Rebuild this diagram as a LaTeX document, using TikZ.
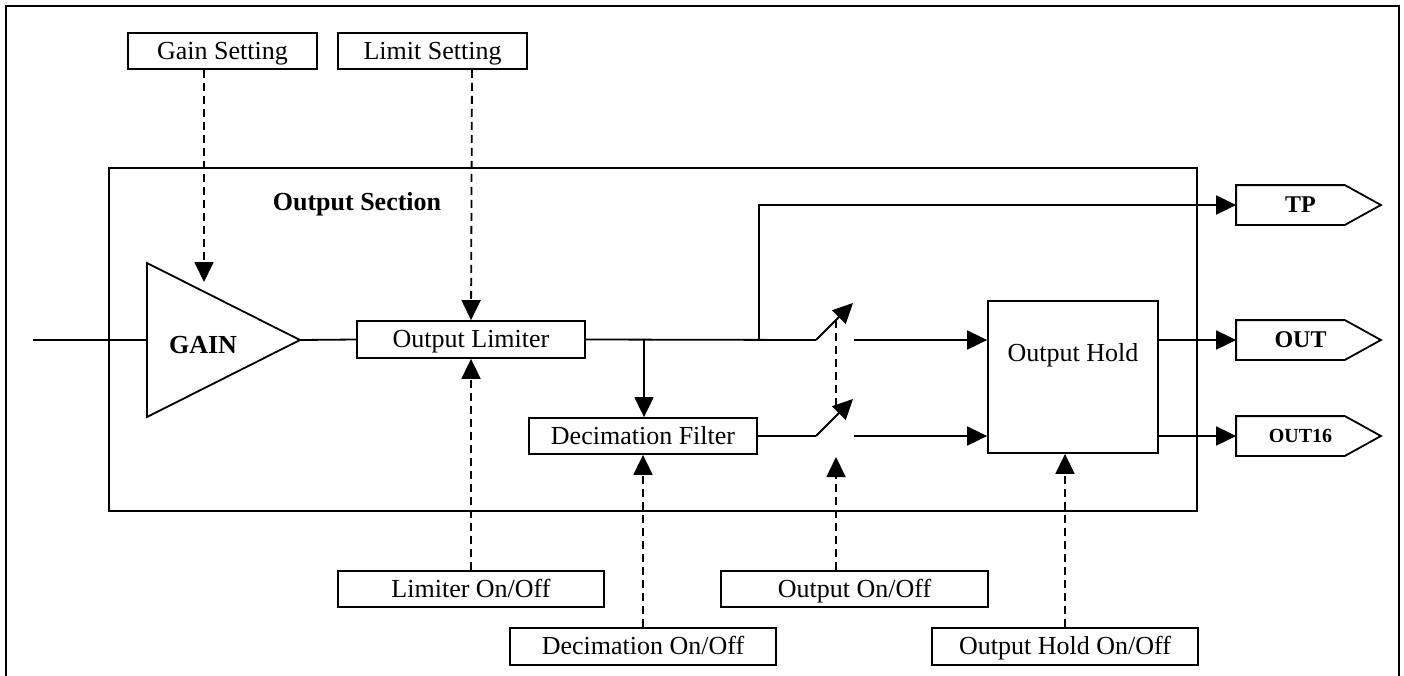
\documentclass[tikz,border=0pt]{standalone}
\usepackage{fontspec}
\setmainfont{Liberation Serif}
\usetikzlibrary{arrows.meta}
\begin{document}
\begin{tikzpicture}[x=1pt,y=-1pt,line width=1.8pt,
  font=\fontsize{26}{31}\selectfont,
  box/.style={draw,line width=1.8pt,minimum height=36pt,inner sep=0pt,text height=20pt,text depth=4pt},
  tagbox/.style={draw=none,minimum width=107pt,minimum height=38pt,inner sep=0pt,font=\fontsize{24}{28}\selectfont\bfseries},
  arr/.style={-{Triangle[length=20pt,width=19pt]}},
  dsh/.style={dash pattern=on 8pt off 5pt}]
\useasboundingbox (0,0) rectangle (1404,675);
% outer frame (open at the bottom)
\draw[line width=2.4pt] (6,680) -- (6,6) -- (1399,6) -- (1399,680);
% output section
\node[draw,minimum width=1088pt,minimum height=343pt,inner sep=0pt] (sec) at (653,339.5) {};
\node[font=\fontsize{26}{31}\selectfont\bfseries] (sect) at (357,204) {Output Section};
% settings
\node[box,minimum width=189pt] (gs) at (222.5,51) {Gain Setting};
\node[box,minimum width=189pt] (ls) at (432.5,51) {Limit Setting};
% amplifier
\coordinate (src) at (33,340);
\coordinate (ampin) at (147,340);
\coordinate (ampout) at (300,340);
\coordinate (gaintip) at (204,282);
\draw (147,263) -- (ampout) -- (147,417) -- cycle;
\node[font=\fontsize{26}{31}\selectfont\bfseries] (gain) at (203,345) {GAIN};
\draw (src) -- (ampin);
% limiter
\node[box,minimum width=228pt,minimum height=37pt] (lim) at (471,339.5) {Output Limiter};
\draw (ampout) -- (lim.west);
\draw[arr,dsh] ([xshift=-18.5pt]gs.south) -- (gaintip);
\draw[arr,dsh] ([xshift=39.5pt]ls.south) -- (lim.north);
\node[box,minimum width=266pt] (lo) at (471,589) {Limiter On/Off};
\draw[arr,dsh] (lo.north) -- (lim.south);
% decimation
\node[box,minimum width=228pt] (dec) at (643,436) {Decimation Filter};
\coordinate (j1) at (644,340);
\draw[arr] (j1) -- (j1 |- dec.north);
\node[box,minimum width=266pt,minimum height=37pt] (do) at (643,646.5) {Decimation On/Off};
\draw[arr,dsh] (do.north) -- (dec.south);
% output hold
\node[draw,minimum width=170pt,minimum height=152pt,inner sep=0pt] (hold) at (1073,377) {\raisebox{50pt}{Output Hold}};
% tags
\node[tagbox] (tp) at (1290.5,205) {\hspace*{20pt}TP};
\node[tagbox] (out) at (1290.5,340) {\hspace*{20pt}OUT};
\node[tagbox,font=\fontsize{20}{24}\selectfont\bfseries] (out16) at (1290.5,436) {\hspace*{20pt}OUT16};
\foreach \t in {tp,out,out16}
  \draw (\t.south west) -- (\t.north west) -- (\t.north east) -- ([xshift=36pt]\t.east) -- (\t.south east) -- cycle;
% switches
\coordinate (j2) at (759,340);
\coordinate (p1) at (816,340);
\coordinate (t1) at (853,303);
\coordinate (s1) at (854,340);
\coordinate (p2) at (816,436);
\coordinate (t2) at (853,399);
\coordinate (s2) at (854,436);
\coordinate (c1) at (836,320);
\coordinate (c2) at (836,407);
\draw (lim.east) -- (p1);
\draw[arr] (p1) -- (t1);
\draw (dec.east) -- (p2);
\draw[arr] (p2) -- (t2);
\draw[dsh] (c1) -- (c2);
\draw[arr] (s1) -- (s1 -| hold.west);
\draw[arr] (s2) -- (s2 -| hold.west);
\draw[arr] (j2) |- (tp.west);
% output on/off
\node[box,minimum width=267pt] (oo) at (854.5,589) {Output On/Off};
\coordinate (ootip) at (836,457);
\draw[arr,dsh] ([xshift=-18.5pt]oo.north) -- (ootip);
% output hold on/off
\node[box,minimum width=266pt,minimum height=37pt] (ho) at (1065,646.5) {Output Hold On/Off};
\draw[arr,dsh] (ho.north) -- (ho.north |- hold.south);
% outputs
\draw[arr] (out.west -| hold.east) -- (out.west);
\draw[arr] (out16.west -| hold.east) -- (out16.west);
\end{tikzpicture}
\end{document}
